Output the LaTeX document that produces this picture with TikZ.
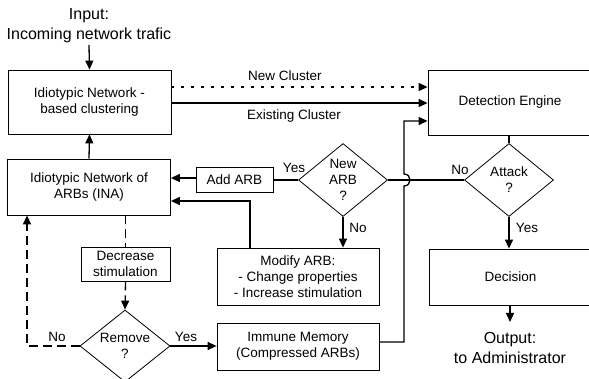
\documentclass[tikz,border=0pt]{standalone}
\usepackage{fontspec}
\setmainfont{Liberation Sans}
\usetikzlibrary{arrows.meta,shapes.geometric}
\begin{document}
\begin{tikzpicture}[x=1pt,y=-1pt,
  txt/.style={font=\fontsize{13.5}{16}\selectfont},
  box/.style={txt,draw,line width=0.8pt,inner sep=0pt,align=center},
  dia/.style={txt,draw,diamond,aspect=1.22,line width=0.8pt,inner sep=0pt,align=center,minimum width=89pt,minimum height=73pt},
  conn/.style={line width=1.3pt},
  arr/.style={conn,-{Triangle[length=9pt,width=8pt]}},
  dashline/.style={conn,dash pattern=on 9pt off 5pt},
  dotline/.style={conn,dash pattern=on 3pt off 7pt},
  lbl/.style={txt,inner sep=0pt},
  io/.style={font=\fontsize{16}{20}\selectfont,align=center,inner sep=0pt}]
\useasboundingbox (0,0) rectangle (589,379);

% nodes
\node[io] (input) at (89,26) {Input:\\Incoming network trafic};
\node[box,minimum width=163pt,minimum height=64pt] (clust) at (89.5,102) {Idiotypic Network -\\based clustering};
\node[box,minimum width=163pt,minimum height=56pt] (ina) at (89,187) {Idiotypic Network of\\ARBs (INA)};
\node[box,minimum width=77pt,minimum height=25pt] (add) at (234.5,179.5) {Add ARB};
\node[dia] (newarb) at (343,180) {New\\ARB\\?};
\node[box,minimum width=164pt,minimum height=65pt] (det) at (510,102.5) {Detection Engine};
\node[dia] (attack) at (509,180) {Attack\\?};
\node[box,minimum width=163pt,minimum height=56pt] (dec) at (510.5,277) {Decision};
\node[io] (output) at (510,348) {Output:\\to Administrator};
\node[box,minimum width=162pt,minimum height=57pt] (mod) at (298,276.5) {Modify ARB:\\- Change properties\\- Increase stimulation};
\node[box,minimum width=89pt,minimum height=34pt] (decr) at (125.5,264) {Decrease\\stimulation};
\node[dia,minimum width=90pt,minimum height=72pt] (remove) at (125,346) {Remove\\?};
\node[box,minimum width=162pt,minimum height=47pt] (imm) at (298,346.5) {Immune Memory\\(Compressed ARBs)};
\coordinate (jx) at (404,0);
\coordinate (lx) at (27,0);

% labels
\node[lbl] (lnew) at (285,76) {New Cluster};
\node[lbl] (lexist) at (294,116) {Existing Cluster};
\node[lbl] (lyes1) at (294,168) {Yes};
\node[lbl] (lno1) at (460,170) {No};
\node[lbl] (lyes2) at (527,228) {Yes};
\node[lbl] (lno2) at (358,228) {No};
\node[lbl] (lno3) at (57,337) {No};
\node[lbl] (lyes3) at (186,337) {Yes};

% connectors
\draw[arr] (input.south |- 0,45) -- (clust.north);
\draw[dotline,-{Triangle[length=9pt,width=8pt]}] (clust.east |- 0,87) -- (det.west |- 0,87);
\draw[arr] (clust.east |- 0,103) -- (det.west |- 0,103);
\draw[arr] (ina.north) -- (clust.south);
\draw[arr] (add.west |- 0,178) -- (ina.east |- 0,178);
\draw[conn] (newarb.west) -- (add.east |- newarb.west);
\draw[conn] (det.south -| attack.north) -- (attack.north);
\draw[conn] (attack.west) -- (newarb.east);
\draw[arr] (attack.south) -- (dec.north -| attack.south);
\draw[arr] (dec.south -| output.north) -- (output.north |- 0,322);
\draw[arr] (newarb.south) -- (mod.north -| newarb.south);
\draw[arr] (mod.north -| 250,0) -- (250,201) -- (ina.east |- 0,201);
\draw[dashline] (ina.south -| decr.north) -- (decr.north);
\draw[dashline,-{Triangle[length=9pt,width=8pt]}] (decr.south) -- (remove.north);
\draw[dashline,-{Triangle[length=9pt,width=8pt]}] (remove.west) -- (lx |- remove.west) -- (lx |- ina.south);
\draw[arr] (remove.east) -- (imm.west |- remove.east);
\draw[arr] (imm.east |- 0,342) -- (jx |- 0,342) -- (jx |- 0,186)
  .. controls (412,186) and (412,174) .. (jx |- 0,174) -- (jx |- 0,121) -- (det.west |- 0,121);
\end{tikzpicture}
\end{document}
